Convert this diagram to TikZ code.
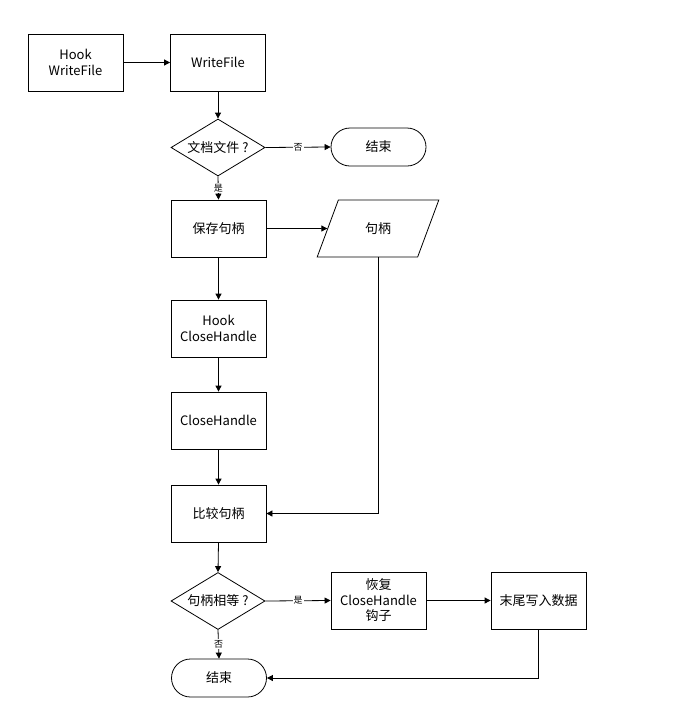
\documentclass[tikz,border=0pt]{standalone}
\usepackage{fontspec}
\setmainfont{Noto Sans CJK SC}
\usetikzlibrary{arrows.meta,shapes.geometric}
\begin{document}
\begin{tikzpicture}[x=1pt,y=-1pt,
  every node/.style={font=\fontsize{13}{15.5}\selectfont},
  box/.style={draw, line width=0.8pt, minimum width=95pt, minimum height=57pt, align=center, inner sep=1pt},
  dec/.style={draw, line width=0.8pt, diamond, aspect=1.65, minimum width=94pt, minimum height=57pt, inner sep=0pt},
  term/.style={draw, line width=0.8pt, rounded corners=19pt, minimum width=95pt, minimum height=38pt},
  io/.style={draw, line width=0.8pt, trapezium, trapezium left angle=65, trapezium right angle=115, trapezium stretches=true, minimum width=122pt, minimum height=57pt},
  arr/.style={line width=0.8pt, -{Triangle[length=6pt,width=6pt]}},
  lbl/.style={fill=white, inner sep=1pt, font=\fontsize{9}{10}\selectfont}
]
\useasboundingbox (0,0) rectangle (678,710);

\node[box] (hwf) at (75.5,62.5) {Hook\\WriteFile};
\node[box] (wf) at (218,62.5) {WriteFile};
\node[dec] (d1) at (218,147.5) {文档文件 ?};
\node[term] (e1) at (378.5,147) {结束};
\node[box] (save) at (218.5,228.5) {保存句柄};
\node[io] (para) at (378,228.5) {句柄};
\node[box] (hch) at (218.5,328.5) {Hook\\CloseHandle};
\node[box] (ch) at (218.5,420.5) {CloseHandle};
\node[box] (cmp) at (218.5,513.5) {比较句柄};
\node[dec] (d2) at (218,601) {句柄相等 ?};
\node[box] (fix) at (378.5,600.5) {恢复\\CloseHandle\\钩子};
\node[box] (tail) at (538.5,600.5) {末尾写入数据};
\node[term] (e2) at (219,678) {结束};

\draw[arr] (hwf.east) -- (wf.west);
\draw[arr] (wf.south) -- (d1.north);
\draw[arr] (d1.east) -- node[lbl] {否} (e1.west);
\draw[arr] (d1.south) -- node[lbl] {是} (save.north);
\draw[arr] (save.east) -- (para.west);
\draw[arr] (save.south) -- (hch.north);
\draw[arr] (hch.south) -- (ch.north);
\draw[arr] (ch.south) -- (cmp.north);
\draw[arr] (para.center |- para.south) |- (cmp.east);
\draw[arr] (cmp.south) -- (d2.north);
\draw[arr] (d2.east) -- node[lbl] {是} (fix.west);
\draw[arr] (fix.east) -- (tail.west);
\draw[arr] (d2.south) -- node[lbl] {否} (e2.north);
\draw[arr] (tail.south) |- (e2.east);
\end{tikzpicture}
\end{document}
